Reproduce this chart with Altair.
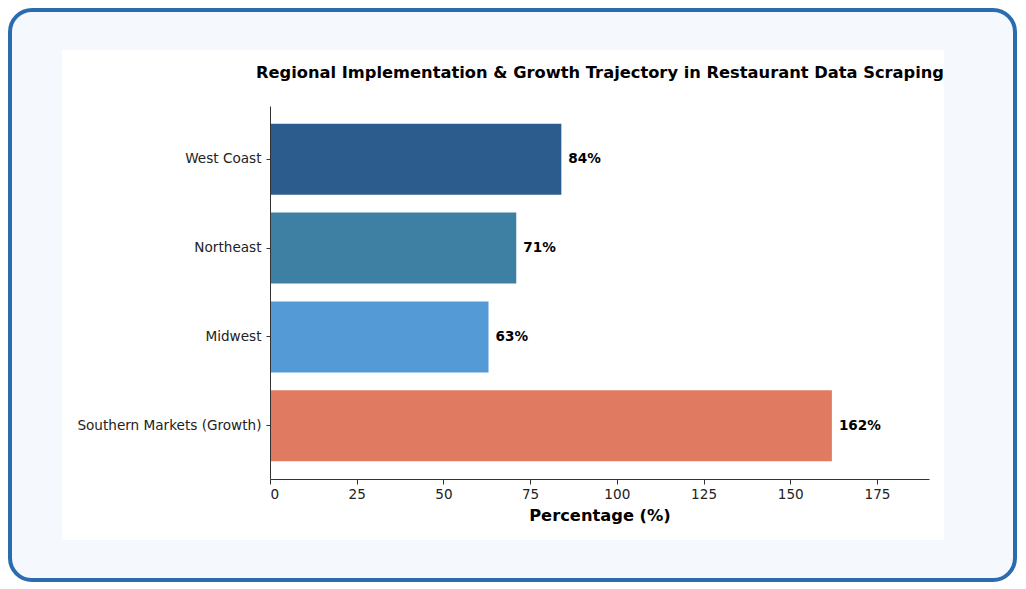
import altair as alt
import pandas as pd

regions = ["West Coast", "Northeast", "Midwest", "Southern Markets (Growth)"]
values = [84, 71, 63, 162]
colors = ["#2c5b8e", "#3d80a3", "#539ad6", "#e07b62"]
x_ticks = [0, 25, 50, 75, 100, 125, 150, 175]
title_text = "Regional Implementation & Growth Trajectory in Restaurant Data Scraping"

df = pd.DataFrame({
    "region": regions,
    "value": values,
    "label": [f"{v}%" for v in values],
})

one = alt.Data(values=[{}])

# decorative frame (pixel offsets relative to plot origin)
frame = alt.Chart(one).mark_rect(
    cornerRadius=22, fill="#f5f8fc", stroke="#2b6cb0", strokeWidth=4
).encode(
    x=alt.value(-260), x2=alt.value(745), y=alt.value(-96), y2=alt.value(474)
)
panel = alt.Chart(one).mark_rect(fill="#ffffff").encode(
    x=alt.value(-208), x2=alt.value(674), y=alt.value(-56), y2=alt.value(434)
)
title = alt.Chart(one).mark_text(
    fontSize=16.3, fontWeight="bold", font="DejaVu Sans", color="#000000",
    align="center", baseline="middle",
).encode(x=alt.value(330), y=alt.value(-33), text=alt.value(title_text))

y_enc = alt.Y(
    "region:N",
    sort=regions,
    scale=alt.Scale(paddingInner=0.2, paddingOuter=0.2),
    axis=alt.Axis(
        title=None, labelFontSize=13.6, labelColor="#222222", labelFont="DejaVu Sans",
        tickSize=4, tickColor="#333333", domainColor="#333333", labelPadding=5,
        labelLimit=400, zindex=2,
    ),
)
x_enc = alt.X(
    "value:Q",
    scale=alt.Scale(domain=[0, 190], nice=False),
    axis=alt.Axis(
        values=x_ticks, title="Percentage (%)", titleFontSize=16.3, titleFontWeight="bold",
        titleFont="DejaVu Sans", titleColor="#000000", titlePadding=7,
        labelFontSize=13.6, labelColor="#222222", labelFont="DejaVu Sans",
        tickSize=5, tickColor="#333333", domainColor="#333333", labelPadding=3,
        grid=False, zindex=2,
    ),
)

bars = alt.Chart(df).mark_bar().encode(
    x=x_enc,
    y=y_enc,
    color=alt.Color("region:N", scale=alt.Scale(domain=regions, range=colors), legend=None),
)

texts = alt.Chart(df).mark_text(
    align="left", baseline="middle", dx=7, fontSize=13.6, fontWeight="bold",
    font="DejaVu Sans", color="#000000",
).encode(
    x=alt.X("value:Q"),
    y=alt.Y("region:N", sort=regions),
    text="label:N",
)

chart = alt.layer(frame, panel, title, bars, texts).properties(
    width=659,
    height=373,
    padding={"left": 270, "top": 106, "right": 97, "bottom": 110},
    autosize=alt.AutoSizeParams(type="none"),
    background="#ffffff",
).configure_view(stroke=None)

chart.save("out.html", embed_options={"renderer": "svg", "actions": False})
